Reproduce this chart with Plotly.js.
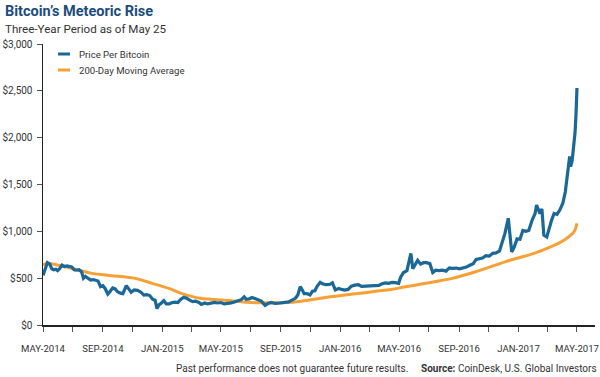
<!DOCTYPE html>
<html>
<head>
<meta charset="utf-8">
<script src="https://cdn.plot.ly/plotly-3.0.1.min.js"></script>
<style>
  html, body { margin: 0; padding: 0; background: #ffffff; }
  #chart { width: 600px; height: 377px; }
</style>
</head>
<body>
<div id="chart"></div>
<script>
// ---- Data ----
const priceDates = [
  "2014-05-25","2014-05-29","2014-06-03","2014-06-08","2014-06-12","2014-06-16","2014-06-20","2014-06-24","2014-06-28",
  "2014-07-03","2014-07-08","2014-07-13","2014-07-18","2014-07-23","2014-07-28","2014-08-02","2014-08-07","2014-08-12",
  "2014-08-16","2014-08-20","2014-08-25","2014-08-31","2014-09-05","2014-09-10","2014-09-15","2014-09-20","2014-09-25",
  "2014-09-30","2014-10-05","2014-10-10","2014-10-15","2014-10-20","2014-10-25","2014-10-31","2014-11-05","2014-11-12",
  "2014-11-16","2014-11-22","2014-11-28","2014-12-05","2014-12-12","2014-12-18","2014-12-24","2014-12-30","2015-01-05",
  "2015-01-10","2015-01-14","2015-01-18","2015-01-23","2015-01-28","2015-02-02","2015-02-08","2015-02-14","2015-02-20",
  "2015-02-26","2015-03-04","2015-03-10","2015-03-16","2015-03-22","2015-03-28","2015-04-03","2015-04-10","2015-04-15",
  "2015-04-22","2015-04-28","2015-05-05","2015-05-12","2015-05-18","2015-05-25","2015-06-01","2015-06-08","2015-06-15",
  "2015-06-22","2015-06-29","2015-07-06","2015-07-12","2015-07-16","2015-07-22","2015-07-28","2015-08-03","2015-08-10",
  "2015-08-16","2015-08-24","2015-08-30","2015-09-06","2015-09-13","2015-09-20","2015-09-27","2015-10-04","2015-10-11",
  "2015-10-18","2015-10-25","2015-10-30","2015-11-04","2015-11-08","2015-11-12","2015-11-18","2015-11-24","2015-11-29",
  "2015-12-04","2015-12-09","2015-12-15","2015-12-20","2015-12-26","2016-01-03","2016-01-09","2016-01-15","2016-01-22",
  "2016-01-28","2016-02-03","2016-02-10","2016-02-17","2016-02-24","2016-03-02","2016-03-09","2016-03-16","2016-03-23",
  "2016-03-30","2016-04-06","2016-04-13","2016-04-20","2016-04-27","2016-05-03","2016-05-10","2016-05-17","2016-05-24",
  "2016-05-28","2016-06-03","2016-06-10","2016-06-16","2016-06-18","2016-06-22","2016-06-27","2016-07-02","2016-07-08",
  "2016-07-14","2016-07-20","2016-07-27","2016-08-02","2016-08-08","2016-08-15","2016-08-22","2016-08-29","2016-09-05",
  "2016-09-12","2016-09-19","2016-09-26","2016-10-03","2016-10-10","2016-10-17","2016-10-24","2016-10-30","2016-11-05",
  "2016-11-12","2016-11-19","2016-11-26","2016-12-03","2016-12-10","2016-12-17","2016-12-23","2016-12-28","2017-01-04",
  "2017-01-08","2017-01-11","2017-01-16","2017-01-22","2017-01-28","2017-02-03","2017-02-09","2017-02-15","2017-02-22",
  "2017-02-28","2017-03-03","2017-03-10","2017-03-14","2017-03-18","2017-03-24","2017-03-29","2017-04-03","2017-04-08",
  "2017-04-14","2017-04-20","2017-04-26","2017-05-01","2017-05-05","2017-05-08","2017-05-10","2017-05-12","2017-05-15",
  "2017-05-18","2017-05-21","2017-05-23","2017-05-25"
];
const priceValues = [
  530,600,665,650,600,590,595,580,600,
  640,625,630,625,620,590,585,590,570,
  500,520,500,480,485,475,470,410,420,
  385,330,360,395,385,355,340,335,420,
  390,350,375,370,350,320,325,315,275,
  265,175,215,235,260,225,225,240,245,
  240,275,295,285,265,250,255,240,220,
  235,225,238,242,235,240,225,228,236,
  245,257,270,300,275,278,294,282,265,
  255,210,230,240,230,232,234,238,246,
  265,285,320,410,375,335,335,320,360,
  365,415,455,440,430,432,450,375,390,
  380,372,380,415,425,430,412,415,412,
  415,420,422,440,450,445,455,452,445,
  510,560,580,740,765,600,640,690,650,
  665,665,655,560,585,580,585,575,610,
  605,608,600,610,618,638,655,700,705,
  715,740,735,765,770,790,890,975,1140,
  900,780,830,920,915,1010,1000,1010,1120,
  1190,1280,1190,1240,960,940,1040,1120,1190,
  1180,1230,1300,1420,1580,1700,1800,1690,1750,
  1900,2050,2250,2530
];

const maDates = [
  "2014-05-25","2014-06-04","2014-07-09","2014-08-05","2014-09-02","2014-10-13","2014-11-30","2015-01-04",
  "2015-02-07","2015-03-05","2015-04-13","2015-06-14","2015-07-18","2015-09-24","2015-10-29","2015-12-02",
  "2016-01-05","2016-03-03","2016-05-11","2016-06-01","2016-07-18","2016-09-11","2016-10-29","2017-01-09",
  "2017-02-26","2017-04-02","2017-04-29","2017-05-19","2017-05-25"
];
const maValues = [
  640,660,622,587,551,527,498,445,
  391,338,285,260,242,238,249,274,
  302,338,381,402,445,498,569,694,
  765,836,907,996,1086
];

const tickDates = [
  "2014-05-25","2014-07-25","2014-09-25","2014-11-25","2015-01-25","2015-03-25","2015-05-25","2015-07-25",
  "2015-09-25","2015-11-25","2016-01-25","2016-03-25","2016-05-25","2016-07-25","2016-09-25","2016-11-25",
  "2017-01-25","2017-03-25","2017-05-25"
];
const tickLabels = [
  "MAY-2014","","SEP-2014","","JAN-2015","","MAY-2015","",
  "SEP-2015","","JAN-2016","","MAY-2016","","SEP-2016","",
  "JAN-2017","","MAY-2017"
];
const yTickVals = [0,500,1000,1500,2000,2500,3000];
const yTickText = ["$0","$500","$1,000","$1,500","$2,000","$2,500","$3,000"];

const seriesNames = ["Price Per Bitcoin","200-Day Moving Average"];
const BLUE = "#1b6896", ORANGE = "#f7a035";

// ---- Layout geometry ----
const L = 43, R = 595, T = 44, B = 325;
const W = R - L, H = B - T;
const px = x => (x - L) / W;
const py = y => (B - y) / H;

const FONT = "Roboto, 'Noto Sans', Arial, sans-serif";

const traces = [
  { x: maDates, y: maValues, name: seriesNames[1], type: "scatter", mode: "lines",
    line: { color: ORANGE, width: 3, shape: "spline", smoothing: 0.8 }, showlegend: false, hoverinfo: "skip" },
  { x: priceDates, y: priceValues, name: seriesNames[0], type: "scatter", mode: "lines",
    line: { color: BLUE, width: 3.2 }, showlegend: false }
];

const layout = {
  width: 600, height: 377,
  margin: { l: L, r: 600 - R, t: T, b: 377 - B, pad: 0 },
  paper_bgcolor: "#ffffff", plot_bgcolor: "#ffffff",
  showlegend: false,
  xaxis: {
    type: "date",
    range: ["2014-05-25", "2017-07-01"],
    tickmode: "array", tickvals: tickDates, ticktext: tickLabels,
    ticks: "outside", ticklen: 5, tickwidth: 1, tickcolor: "#555555",
    showline: true, linecolor: "#222222", linewidth: 1.5,
    showgrid: false, zeroline: false,
    ticklabelstandoff: 9,
    tickfont: { family: FONT, size: 9.6, color: "#333333" }
  },
  yaxis: {
    range: [0, 3000],
    tickmode: "array", tickvals: yTickVals, ticktext: yTickText,
    ticks: "outside", ticklen: 5, tickwidth: 1, tickcolor: "#555555",
    showline: true, linecolor: "#222222", linewidth: 1.5,
    showgrid: false, zeroline: false,
    ticklabelstandoff: 2,
    tickfont: { family: FONT, size: 10, color: "#333333" }
  },
  shapes: [
    { type: "line", xref: "paper", yref: "paper", x0: px(58), x1: px(70), y0: py(54), y1: py(54),
      line: { color: BLUE, width: 3 } },
    { type: "line", xref: "paper", yref: "paper", x0: px(58), x1: px(70), y0: py(70), y1: py(70),
      line: { color: ORANGE, width: 3 } }
  ],
  annotations: [
    { text: "<b>Bitcoin’s Meteoric Rise</b>", xref: "paper", yref: "paper", x: px(3), y: py(12),
      xanchor: "left", yanchor: "middle", showarrow: false,
      font: { family: FONT, size: 14.5, color: "#1c4d7c" } },
    { text: "Three-Year Period as of May 25", xref: "paper", yref: "paper", x: px(3), y: py(29),
      xanchor: "left", yanchor: "middle", showarrow: false,
      font: { family: FONT, size: 11.6, color: "#333333" } },
    { text: seriesNames[0], xref: "paper", yref: "paper", x: px(77), y: py(54),
      xanchor: "left", yanchor: "middle", showarrow: false,
      font: { family: FONT, size: 9.6, color: "#333333" } },
    { text: seriesNames[1], xref: "paper", yref: "paper", x: px(77), y: py(70),
      xanchor: "left", yanchor: "middle", showarrow: false,
      font: { family: FONT, size: 9.6, color: "#333333" } },
    { text: "Past performance does not guarantee future results.", xref: "paper", yref: "paper",
      x: px(410), y: py(368), xanchor: "right", yanchor: "middle", showarrow: false,
      font: { family: FONT, size: 10, color: "#333333" } },
    { text: "<b>Source:</b> CoinDesk, U.S. Global Investors", xref: "paper", yref: "paper",
      x: px(599), y: py(368), xanchor: "right", yanchor: "middle", showarrow: false,
      font: { family: FONT, size: 10, color: "#333333" } }
  ]
};

Plotly.newPlot("chart", traces, layout, { displayModeBar: false, staticPlot: true });
</script>
</body>
</html>
